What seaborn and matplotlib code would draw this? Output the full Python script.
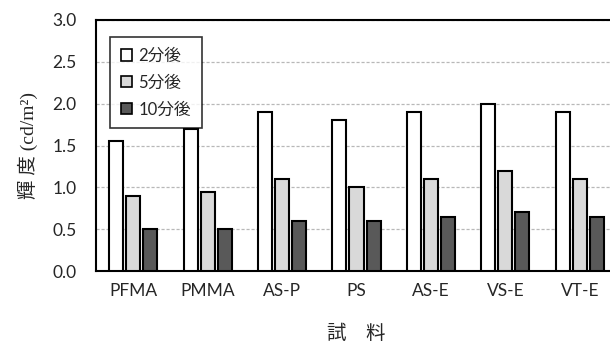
import pandas as pd
import matplotlib
matplotlib.use("Agg")
import matplotlib.pyplot as plt
import seaborn as sns

# data
samples = ["PFMA", "PMMA", "AS-P", "PS", "AS-E", "VS-E", "VT-E"]
after_2min = [1.55, 1.70, 1.90, 1.80, 1.90, 2.00, 1.90]
after_5min = [0.90, 0.95, 1.10, 1.00, 1.10, 1.20, 1.10]
after_10min = [0.50, 0.50, 0.60, 0.60, 0.65, 0.70, 0.65]
series = ["2分後", "5分後", "10分後"]
colors = ["#ffffff", "#d9d9d9", "#595959"]

df = pd.DataFrame({"試料": samples, series[0]: after_2min,
                   series[1]: after_5min, series[2]: after_10min})
long = df.melt(id_vars="試料", var_name="time", value_name="輝度")

sns.set_style("white")
plt.rcParams["font.family"] = ["Lato", "Noto Sans CJK JP", "DejaVu Sans"]

fig = plt.figure(figsize=(6.10, 3.52), dpi=100)
ax = fig.add_axes([96 / 610, 81 / 352, 521 / 610, 251 / 352])

sns.barplot(data=long, x="試料", y="輝度", hue="time", hue_order=series,
            palette=colors, width=0.69, gap=0.18, edgecolor="black",
            linewidth=1.5, ax=ax, zorder=3)

ax.set_ylim(0, 3.0)
ax.set_xlim(-0.5, len(samples) - 0.5)
ax.set_yticks([0, 0.5, 1.0, 1.5, 2.0, 2.5, 3.0])
ax.set_yticklabels(["0.0", "0.5", "1.0", "1.5", "2.0", "2.5", "3.0"])
ax.yaxis.grid(True, color="#b8b8b8", linestyle=(0, (2.5, 1.5)), linewidth=0.9, zorder=0)
ax.set_axisbelow(True)
ax.tick_params(axis="y", length=0, pad=14, labelsize=12.5)
ax.tick_params(axis="x", length=0, pad=9, labelsize=12.5)
for s in ax.spines.values():
    s.set_color("black")
    s.set_linewidth(1.5)

ax.set_xlabel("試　料", fontsize=14, labelpad=17, family=["Noto Sans CJK JP"])
ax.set_ylabel("輝 度 (cd/m²)", fontsize=14, labelpad=10,
              family=["Liberation Serif", "Noto Sans CJK JP"])

leg = ax.legend(loc="upper left", bbox_to_anchor=(0.027, 0.932), frameon=True,
                fancybox=False, edgecolor="black", handlelength=0.65,
                handleheight=0.65, handletextpad=0.4, labelspacing=0.65,
                borderpad=0.65, borderaxespad=0,
                prop={"family": ["Lato", "Noto Sans CJK JP"], "size": 12})
leg.get_frame().set_linewidth(1.2)
for h in leg.legend_handles:
    h.set_linewidth(1.2)

fig.savefig("out.png", dpi=100)
